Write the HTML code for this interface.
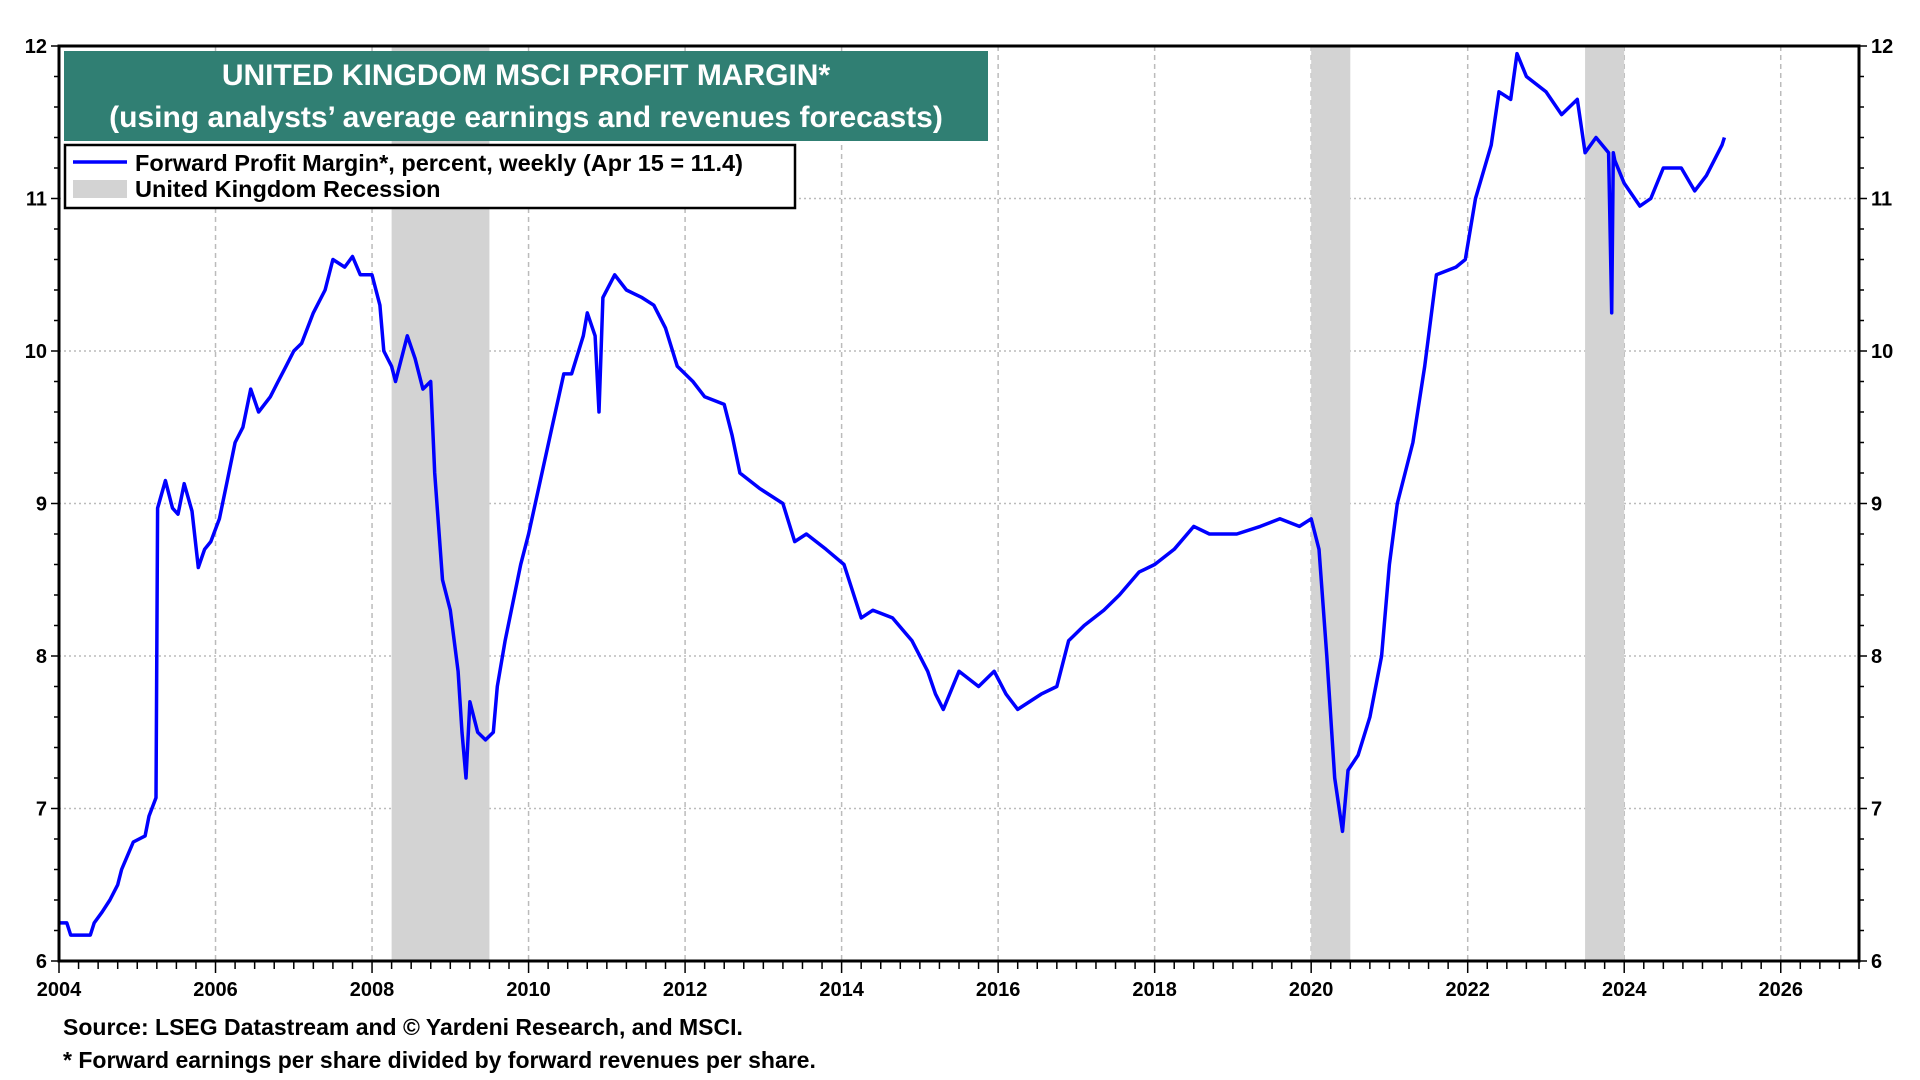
<!DOCTYPE html>
<html><head><meta charset="utf-8"><style>
html,body{margin:0;padding:0;background:#fff}
svg{display:block}
text{font-family:"Liberation Sans",Arial,sans-serif;font-weight:bold}
</style></head><body>
<svg id="chart" width="1920" height="1080" viewBox="0 0 1920 1080">
<g id="grid"></g>
<g id="rec"></g>
<g id="ser"></g>
<g id="axes"></g>
<g>
<rect x="64" y="51" width="924" height="90" fill="#307f73"/>
<text x="526" y="85" fill="#fff" font-size="30" text-anchor="middle">UNITED KINGDOM MSCI PROFIT MARGIN*</text>
<text x="526" y="127" fill="#fff" font-size="30" text-anchor="middle">(using analysts’ average earnings and revenues forecasts)</text>
</g>
<g>
<rect x="65" y="145" width="730" height="63" fill="#fff" stroke="#000" stroke-width="2.5"/>
<line x1="73" y1="162" x2="127" y2="162" stroke="#0000ff" stroke-width="3.5"/>
<text x="135" y="171" font-size="23.5">Forward Profit Margin*, percent, weekly (Apr 15 = 11.4)</text>
<rect x="73" y="180" width="54" height="18" fill="#d3d3d3"/>
<text x="135" y="197" font-size="23.5">United Kingdom Recession</text>
</g>
<text x="63" y="1035" font-size="23">Source: LSEG Datastream and © Yardeni Research, and MSCI.</text>
<text x="63" y="1068" font-size="23">* Forward earnings per share divided by forward revenues per share.</text>
</svg>
<script>
const years=[2004,2004.1,2004.15,2004.4,2004.45,2004.55,2004.65,2004.75,2004.8,2004.95,
2005.1,2005.15,2005.24,2005.26,2005.36,2005.45,2005.52,2005.6,2005.7,2005.78,
2005.86,2005.94,2006.05,2006.15,2006.25,2006.35,2006.45,2006.55,2006.7,2006.8,
2006.9,2007,2007.1,2007.25,2007.4,2007.5,2007.65,2007.75,2007.85,2008,
2008.1,2008.15,2008.25,2008.3,2008.45,2008.55,2008.65,2008.75,2008.8,2008.9,
2009.0,2009.1,2009.15,2009.2,2009.25,2009.35,2009.45,2009.55,2009.6,2009.7,
2009.9,2010,2010.15,2010.3,2010.45,2010.55,2010.7,2010.75,2010.85,2010.9,
2010.95,2011.1,
2011.25,2011.45,2011.6,2011.75,2011.9,2012.1,2012.25,2012.5,2012.6,2012.7,2012.95,2013.25,2013.4,2013.55,2013.8,2014.03,2014.25,2014.4,2014.65,2014.9,2015.1,2015.2,2015.3,2015.5,2015.75,2015.95,2016.1,2016.25,2016.55,2016.75,2016.9,2017.1,2017.35,2017.55,2017.8,2018.0,2018.25,2018.5,2018.7,2019.05,2019.35,2019.6,2019.85,2020.0,2020.1,2020.2,2020.3,2020.4,2020.47,2020.6,2020.75,2020.9,2021.0,2021.1,2021.3,2021.45,2021.6,2021.85,2021.97,2022.1,2022.3,2022.4,2022.55,2022.63,2022.75,2023.0,2023.2,2023.4,2023.5,2023.64,2023.8,2023.84,2023.86,2023.88,2024.0,2024.2,2024.34,2024.5,2024.73,2024.9,2025.05,2025.2,2025.25,2025.28];
const margins=[6.25,6.25,6.17,6.17,6.25,6.32,6.4,6.5,6.6,6.78,
6.82,6.95,7.07,8.97,9.15,8.97,8.93,9.13,8.95,8.58,
8.7,8.75,8.9,9.15,9.4,9.5,9.75,9.6,9.7,9.8,
9.9,10.0,10.05,10.25,10.4,10.6,10.55,10.62,10.5,10.5,
10.3,10.0,9.9,9.8,10.1,9.95,9.75,9.8,9.2,8.5,
8.3,7.9,7.5,7.2,7.7,7.5,7.45,7.5,7.8,8.1,
8.6,8.8,9.15,9.5,9.85,9.85,10.1,10.25,10.1,9.6,
10.35,10.5,
10.4,10.35,10.3,10.15,9.9,9.8,9.7,9.65,9.45,9.2,9.1,9.0,8.75,8.8,8.7,8.6,8.25,8.3,8.25,8.1,7.9,7.75,7.65,7.9,7.8,7.9,7.75,7.65,7.75,7.8,8.1,8.2,8.3,8.4,8.55,8.6,8.7,8.85,8.8,8.8,8.85,8.9,8.85,8.9,8.7,8.0,7.2,6.85,7.25,7.35,7.6,8.0,8.6,9.0,9.4,9.9,10.5,10.55,10.6,11.0,11.35,11.7,11.65,11.95,11.8,11.7,11.55,11.65,11.3,11.4,11.3,10.25,11.3,11.25,11.1,10.95,11.0,11.2,11.2,11.05,11.15,11.3,11.35,11.4];
const recStart=[2008.25,2020.0,2023.5];
const recEnd=[2009.5,2020.5,2024.0];
const yTicks=[6,7,8,9,10,11,12];
const xTickYears=[2004,2006,2008,2010,2012,2014,2016,2018,2020,2022,2024,2026];

const L=59,R=1859,T=46,B=961,X0=2004,X1=2027,Y0=6,Y1=12;
const sx=v=>L+(v-X0)/(X1-X0)*(R-L);
const sy=v=>B-(v-Y0)/(Y1-Y0)*(B-T);
const NS='http://www.w3.org/2000/svg';
function mk(tag,parent,attrs){const e=document.createElementNS(NS,tag);for(const k in attrs)e.setAttribute(k,attrs[k]);parent.appendChild(e);return e;}
const grid=document.getElementById('grid'),rec=document.getElementById('rec'),ser=document.getElementById('ser'),axes=document.getElementById('axes');

yTicks.forEach(v=>{
  const g=mk('line',grid,{x1:L,x2:R,y1:sy(v),y2:sy(v),stroke:'#bbb','stroke-width':1.5,'stroke-dasharray':'2,3'});
  
  
  const tl=mk('text',axes,{x:L-12,y:sy(v)+7,'font-size':20,'text-anchor':'end'});tl.textContent=v;
  
  
  const tr=mk('text',axes,{x:R+12,y:sy(v)+7,'font-size':20,'text-anchor':'start'});tr.textContent=v;
  
  
});
xTickYears.forEach(v=>{
  if(v>X0){const g=mk('line',grid,{x1:sx(v),x2:sx(v),y1:T,y2:B,stroke:'#bbb','stroke-width':1.5,'stroke-dasharray':'5,4'});
  
  }
  const t=mk('text',axes,{x:sx(v),y:B+35,'font-size':20,'text-anchor':'middle'});t.textContent=v;
  
  
});
for(let q=X0*4;q<=X1*4;q++){const v=q/4;const big=(q%8===0);
  mk('line',axes,{x1:sx(v),x2:sx(v),y1:B,y2:B+(big?12:8),stroke:'#000','stroke-width':1.5});}
for(let i=0;i<=30;i++){const v=Y0+i*0.2;const big=(i%5===0);
  mk('line',axes,{x1:L,x2:L-(big?8:5),y1:sy(v),y2:sy(v),stroke:'#000','stroke-width':1.5});
  mk('line',axes,{x1:R,x2:R+(big?8:5),y1:sy(v),y2:sy(v),stroke:'#000','stroke-width':1.5});}
recStart.forEach((s,i)=>{
  const r=mk('rect',rec,{x:sx(s),y:T,width:sx(recEnd[i])-sx(s),height:B-T,fill:'#d3d3d3'});
  
  
});
const d=years.map((y,i)=>(i?'L':'M')+sx(y).toFixed(1)+','+sy(margins[i]).toFixed(1)).join('');
const p=mk('path',ser,{d:d,fill:'none',stroke:'#0000ff','stroke-width':3.5,'stroke-linejoin':'round'});


const f=mk('rect',axes,{x:L,y:T,width:R-L,height:B-T,fill:'none',stroke:'#000','stroke-width':3});


</script>
</body></html>
